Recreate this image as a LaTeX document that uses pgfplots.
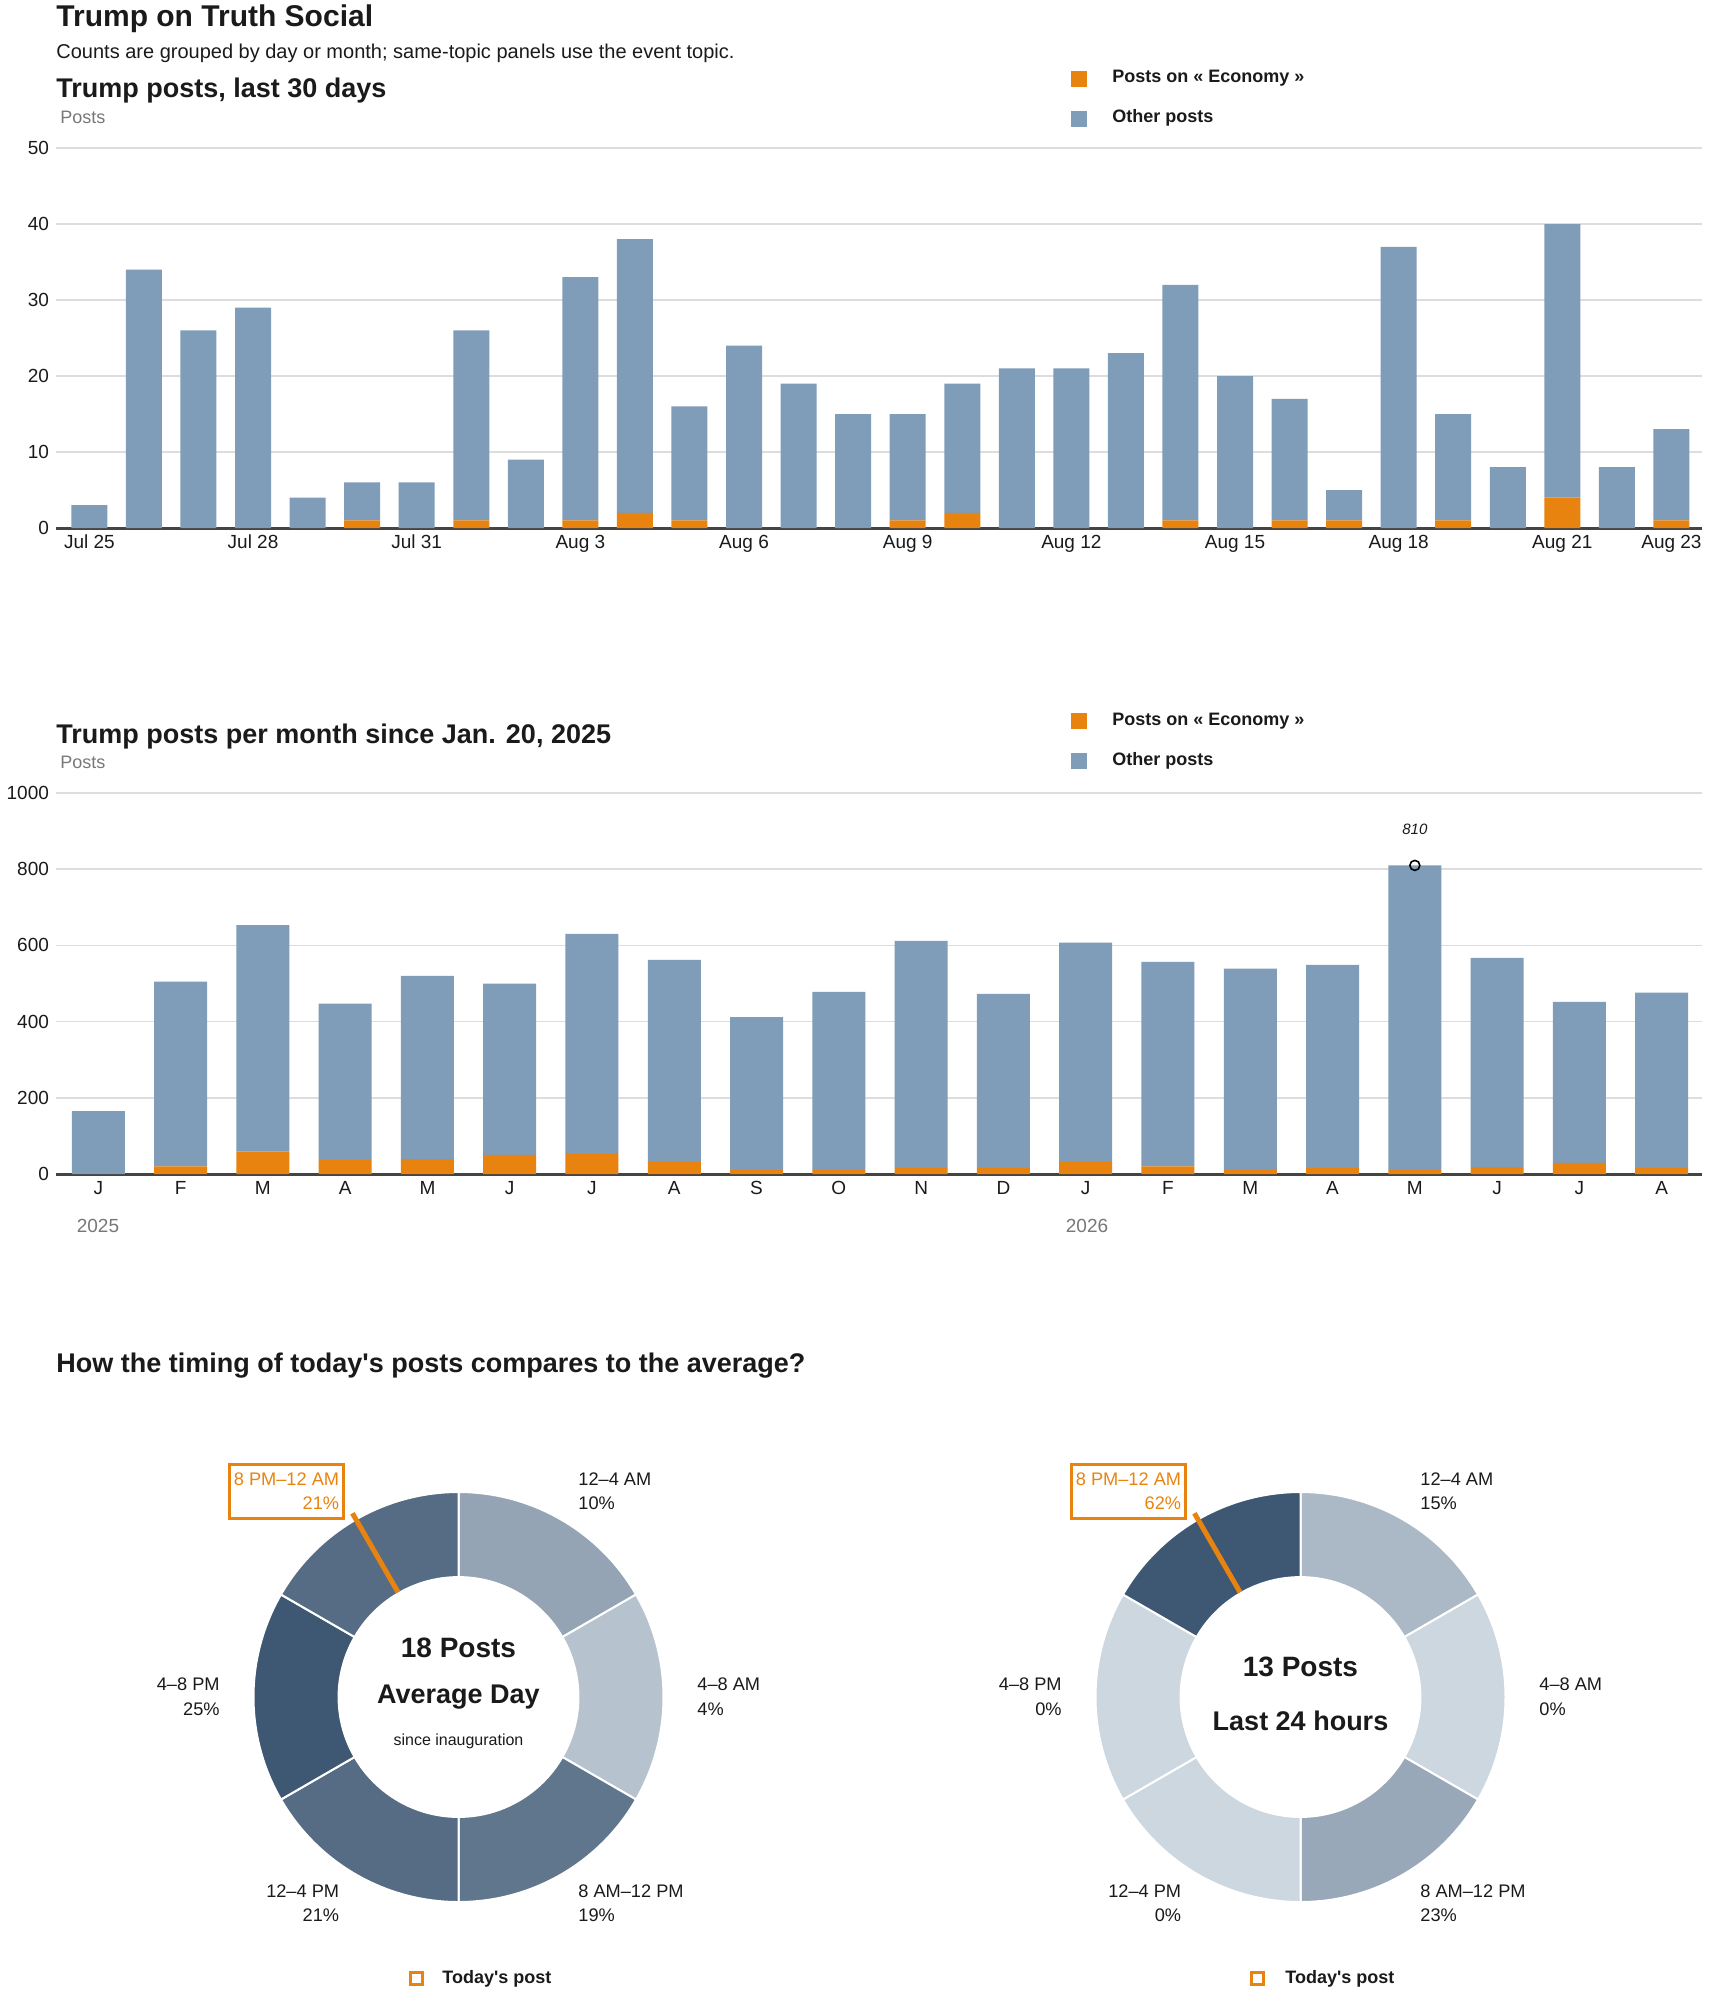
\documentclass[border=0pt]{standalone}
\usepackage{fontspec}
\setmainfont{Liberation Sans}
\usepackage{pgfplots}
\pgfplotsset{compat=1.18}
\usepackage{pgfplotstable}

\definecolor{econ}{HTML}{E8830F}
\definecolor{other}{HTML}{7F9DB9}
\definecolor{gridc}{HTML}{DDDDDD}
\definecolor{axisc}{HTML}{444444}
\definecolor{ink}{HTML}{1A1A1A}
\definecolor{subgray}{HTML}{777777}
\definecolor{donutlight}{HTML}{CDD7E0}
\definecolor{donutdark}{HTML}{3E5873}

\newcommand\fs[1]{\fontsize{#1}{#1}\selectfont}

% donut shade: share of the largest slot
\newcommand\donutcolor[3]{\pgfmathtruncatemacro\segmix{round(100*#2/#3)}\colorlet{#1}{donutdark!\segmix!donutlight}}
% avg day (max 25)
\donutcolor{La}{10}{25}\donutcolor{Lb}{4}{25}\donutcolor{Lc}{19}{25}
\donutcolor{Ld}{21}{25}\donutcolor{Le}{25}{25}\donutcolor{Lf}{21}{25}
% last 24 h (max 62)
\donutcolor{Ra}{15}{62}\donutcolor{Rb}{0}{62}\donutcolor{Rc}{23}{62}
\donutcolor{Rd}{0}{62}\donutcolor{Re}{0}{62}\donutcolor{Rf}{62}{62}

\newcommand\donutseg[3]{%
  \fill[fill=#3, draw=white, line width=1pt]
    (axis cs:{cos(#1)},{sin(#1)}) arc[start angle=#1, end angle=#2, radius=1]
    -- (axis cs:{0.585*cos(#2)},{0.585*sin(#2)})
    arc[start angle=#2, end angle=#1, radius=0.585] -- cycle;}

\pgfplotsset{
  barchart/.style={
    scale only axis, ybar stacked, ymin=0, enlargelimits=false,
    axis lines*=left, axis line style={draw=none},
    major tick length=0pt, tick style={draw=none},
    ymajorgrids, grid style={draw=gridc, line width=0.75pt},
    ticklabel style={font=\fs{9.5}, text=ink},
    /pgf/number format/assume math mode=true,
    /pgf/number format/1000 sep={},
    clip=false,
  },
  donut/.style={
    scale only axis, width=205pt, height=205pt, anchor=center,
    xmin=-1, xmax=1, ymin=-1, ymax=1, hide axis, clip=false,
  },
}

\pgfplotstableread{
idx econ other
0 0 3
1 0 34
2 0 26
3 0 29
4 0 4
5 1 5
6 0 6
7 1 25
8 0 9
9 1 32
10 2 36
11 1 15
12 0 24
13 0 19
14 0 15
15 1 14
16 2 17
17 0 21
18 0 21
19 0 23
20 1 31
21 0 20
22 1 16
23 1 4
24 0 37
25 1 14
26 0 8
27 4 36
28 0 8
29 1 12
}\dailytable

\pgfplotstableread{
idx econ other
0 0 165
1 20 485
2 59 594
3 37 410
4 39 481
5 50 450
6 53 577
7 32 530
8 10 402
9 10 468
10 16 596
11 16 457
12 32 575
13 20 537
14 10 529
15 16 533
16 10 800
17 18 549
18 29 423
19 16 460
}\monthlytable

\begin{document}
\begin{tikzpicture}[x=0.5pt,y=-0.5pt]
\path[use as bounding box] (0,0) rectangle (1710,1993);

\tikzset{lbl/.style={inner sep=0pt, text=ink}}

% headings
\node[lbl, anchor=base west, font=\fs{15}\bfseries] at (56,26) {Trump on Truth Social};
\node[lbl, anchor=base west, font=\fs{10}] at (56,58) {Counts are grouped by day or month; same-topic panels use the event topic.};

% ---------- daily chart ----------
\node[lbl, anchor=base west, font=\fs{13.5}\bfseries] at (56,97) {Trump posts, last 30 days};
\node[lbl, anchor=base west, font=\fs{9}, text=subgray] at (60,123) {Posts};
\fill[econ] (1071,71) rectangle (1087,87);
\fill[other] (1071,111) rectangle (1087,127);
\node[lbl, anchor=base west, font=\fs{9}\bfseries] at (1112,82) {Posts on « Economy »};
\node[lbl, anchor=base west, font=\fs{9}\bfseries] at (1112,122) {Other posts};

\begin{axis}[barchart, at={(28pt,-264pt)}, anchor=south west,
  width=823pt, height=190pt, bar width=18pt,
  xmin=-0.612, xmax=29.56, ymax=50, ytick={0,10,20,30,40,50},
  xtick={0,3,6,9,12,15,18,21,24,27,29},
  xticklabels={Jul 25,Jul 28,Jul 31,Aug 3,Aug 6,Aug 9,Aug 12,Aug 15,Aug 18,Aug 21,Aug 23}]
\addplot[fill=econ, draw=none] table[x=idx, y=econ] {\dailytable};
\addplot[fill=other, draw=none] table[x=idx, y=other] {\dailytable};
\draw[axisc, line width=1.5pt] (rel axis cs:0,0) -- (rel axis cs:1,0);
\end{axis}

% ---------- monthly chart ----------
\node[lbl, anchor=base west, font=\fs{13.5}\bfseries] at (56,743) {Trump posts per month since Jan. 20, 2025};
\node[lbl, anchor=base west, font=\fs{9}, text=subgray] at (60,768) {Posts};
\fill[econ] (1071,713) rectangle (1087,729);
\fill[other] (1071,753) rectangle (1087,769);
\node[lbl, anchor=base west, font=\fs{9}\bfseries] at (1112,725) {Posts on « Economy »};
\node[lbl, anchor=base west, font=\fs{9}\bfseries] at (1112,765) {Other posts};

\begin{axis}[barchart, at={(28pt,-587pt)}, anchor=south west,
  width=823pt, height=190.5pt, bar width=26.5pt,
  xmin=-0.514, xmax=19.49, ymax=1000, ytick={0,200,400,600,800,1000},
  xtick={0,...,19},
  xticklabels={J,F,M,A,M,J,J,A,S,O,N,D,J,F,M,A,M,J,J,A}]
\addplot[fill=econ, draw=none] table[x=idx, y=econ] {\monthlytable};
\addplot[fill=other, draw=none] table[x=idx, y=other] {\monthlytable};
\draw[axisc, line width=1.5pt] (rel axis cs:0,0) -- (rel axis cs:1,0);
\end{axis}
% peak marker
\begin{axis}[at={(28pt,-587pt)}, anchor=south west, scale only axis,
  width=823pt, height=190.5pt, xmin=-0.514, xmax=19.49, ymin=0, ymax=1000,
  hide axis, clip=false, /pgf/number format/assume math mode=true]
\addplot[only marks, mark=o, mark size=2.5pt, mark options={line width=0.8pt, draw=black},
  nodes near coords, nodes near coords style={font=\itshape\fs{7.5}, text=ink, anchor=base, inner sep=0pt, yshift=15.5pt}]
  coordinates {(16,810)};
\end{axis}
\node[lbl, anchor=base, font=\fs{9.5}, text=subgray] at (98,1232) {2025};
\node[lbl, anchor=base, font=\fs{9.5}, text=subgray] at (1087,1232) {2026};

% ---------- donuts ----------
\node[lbl, anchor=base west, font=\fs{13.5}\bfseries] at (56,1372) {How the timing of today\textquotesingle s posts compares to the average?};

\begin{axis}[donut, at={(229.25pt,-848.5pt)}]
\donutseg{90}{30}{La}
\donutseg{30}{-30}{Lb}
\donutseg{-30}{-90}{Lc}
\donutseg{-90}{-150}{Ld}
\donutseg{-150}{-210}{Le}
\donutseg{-210}{-270}{Lf}
\draw[econ, line width=2.5pt] (axis cs:{0.59*cos(120)},{0.59*sin(120)}) -- (axis cs:{1.035*cos(120)},{1.035*sin(120)});
\end{axis}

\begin{axis}[donut, at={(650.25pt,-848.5pt)}]
\donutseg{90}{30}{Ra}
\donutseg{30}{-30}{Rb}
\donutseg{-30}{-90}{Rc}
\donutseg{-90}{-150}{Rd}
\donutseg{-150}{-210}{Re}
\donutseg{-210}{-270}{Rf}
\draw[econ, line width=2.5pt] (axis cs:{0.59*cos(120)},{0.59*sin(120)}) -- (axis cs:{1.035*cos(120)},{1.035*sin(120)});
\end{axis}

% donut labels
\begin{scope}[every node/.style={lbl, font=\fs{9.1}}, yshift=-3.5pt]
\node[anchor=base west] at (578,1478) {12–4 AM};
\node[anchor=base west] at (578,1502) {10\%};
\node[anchor=base west] at (697,1683) {4–8 AM};
\node[anchor=base west] at (697,1708) {4\%};
\node[anchor=base west] at (578,1890) {8 AM–12 PM};
\node[anchor=base west] at (578,1914) {19\%};
\node[anchor=base east] at (339.5,1890) {12–4 PM};
\node[anchor=base east] at (339.5,1914) {21\%};
\node[anchor=base east] at (220,1683) {4–8 PM};
\node[anchor=base east] at (220,1708) {25\%};
\node[anchor=base east, text=econ] at (339.5,1478) {8 PM–12 AM};
\node[anchor=base east, text=econ] at (339.5,1502) {21\%};
\node[anchor=base west] at (1420,1478) {12–4 AM};
\node[anchor=base west] at (1420,1502) {15\%};
\node[anchor=base west] at (1539,1683) {4–8 AM};
\node[anchor=base west] at (1539,1708) {0\%};
\node[anchor=base west] at (1420,1890) {8 AM–12 PM};
\node[anchor=base west] at (1420,1914) {23\%};
\node[anchor=base east] at (1181.5,1890) {12–4 PM};
\node[anchor=base east] at (1181.5,1914) {0\%};
\node[anchor=base east] at (1062,1683) {4–8 PM};
\node[anchor=base east] at (1062,1708) {0\%};
\node[anchor=base east, text=econ] at (1181.5,1478) {8 PM–12 AM};
\node[anchor=base east, text=econ] at (1181.5,1502) {62\%};
\draw[econ, line width=1.5pt] (229,1457) rectangle (343,1511);
\draw[econ, line width=1.5pt] (1071,1457) rectangle (1185,1511);

% donut centres
\node[anchor=base, font=\fs{14}\bfseries] at (458.5,1650) {18 Posts};
\node[anchor=base, font=\fs{13.5}\bfseries] at (458.5,1696) {Average Day};
\node[anchor=base, font=\fs{8}] at (458.5,1738) {since inauguration};
\node[anchor=base, font=\fs{14}\bfseries] at (1300.5,1669) {13 Posts};
\node[anchor=base, font=\fs{13.5}\bfseries] at (1300.5,1723) {Last 24 hours};
\end{scope}

% today's post keys
\draw[econ, line width=1.5pt] (410.5,1972.5) rectangle (422.5,1984.5);
\node[lbl, anchor=base west, font=\fs{9}\bfseries] at (442,1983) {Today\textquotesingle s post};
\draw[econ, line width=1.5pt] (1251.5,1972.5) rectangle (1263.5,1984.5);
\node[lbl, anchor=base west, font=\fs{9}\bfseries] at (1285,1983) {Today\textquotesingle s post};
\end{tikzpicture}
\end{document}
